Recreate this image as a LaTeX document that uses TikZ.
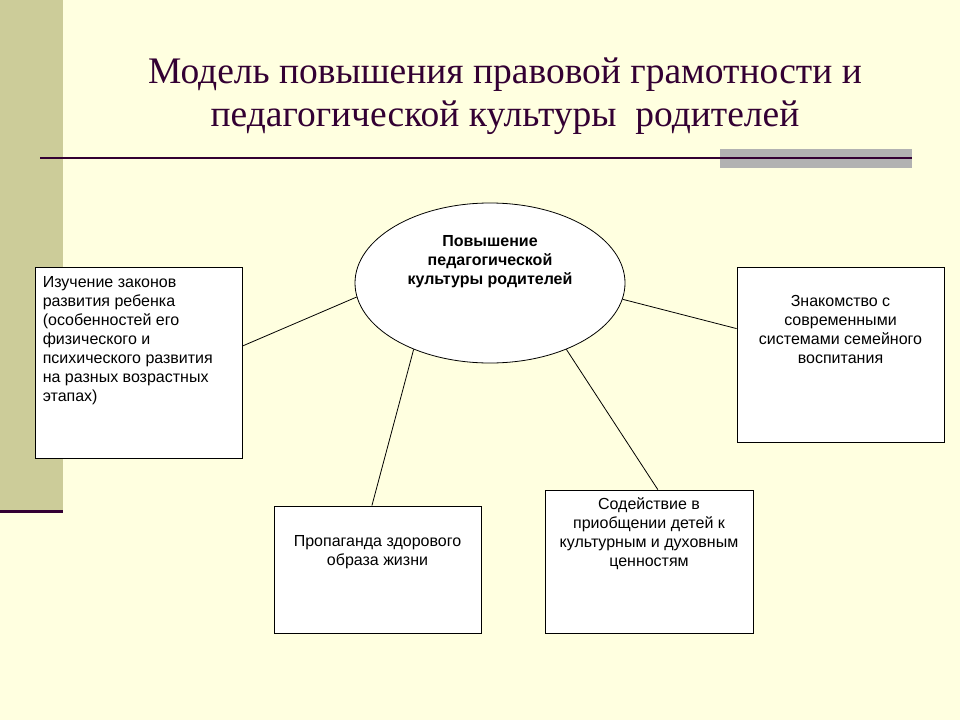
\documentclass[tikz,border=0pt]{standalone}
\usepackage{fontspec}
\setmainfont{Liberation Serif}
\newfontfamily\arialfont{Liberation Sans}
\usetikzlibrary{shapes.geometric}
\definecolor{bgcream}{RGB}{255,255,224}
\definecolor{barolive}{RGB}{204,204,153}
\definecolor{darkplum}{RGB}{51,0,51}
\definecolor{bargray}{RGB}{178,178,178}
\begin{document}
\begin{tikzpicture}[x=1pt,y=-1pt,
	infobox/.style={draw,fill=white,line width=0.8pt,inner sep=0pt},
	infotext/.style={font=\arialfont\fontsize{16}{19}\selectfont,inner sep=0pt,anchor=north,align=center},
	link/.style={line width=0.8pt}]
	\useasboundingbox (0,0) rectangle (960,720);
	\fill[bgcream] (0,0) rectangle (960,720);
	
	% side bar and title rule
	\fill[barolive] (0,0) rectangle (63,510);
	\draw[darkplum,line width=3pt] (0,511) -- (63,511);
	\fill[bargray] (720,149) rectangle (912,168);
	\draw[darkplum,line width=2.5pt] (40,158) -- (912,158);
	
	\node[darkplum,align=center,font=\fontsize{37.5}{43}\selectfont] (title) at (505,96) {Модель повышения правовой грамотности и\\педагогической культуры\ \ родителей};
	
	% centre
	\node[ellipse,infobox,minimum width=270,minimum height=160] (goal) at (490,283) {};
	\node[infotext,font=\arialfont\bfseries\fontsize{16}{19}\selectfont] (goaltext) at ([yshift=-33pt]goal.north) {Повышение\\педагогической\\культуры родителей};
	
	% boxes
	\node[infobox,minimum width=207,minimum height=191] (laws) at (138.5,362.5) {};
	\node[infotext,anchor=north west,align=left] (lawstext) at ([xshift=8pt,yshift=-10pt]laws.north west) {Изучение законов\\развития ребенка\\(особенностей его\\физического и\\психического развития\\на разных возрастных\\этапах)};
	
	\node[infobox,minimum width=207,minimum height=175] (systems) at (840.5,354.5) {};
	\node[infotext] (systemstext) at ([yshift=-29pt]systems.north) {Знакомство с\\современными\\системами семейного\\воспитания};
	
	\node[infobox,minimum width=207,minimum height=127] (health) at (377.5,569.5) {};
	\node[infotext] (healthtext) at ([yshift=-30pt]health.north) {Пропаганда здорового\\образа жизни};
	
	\node[infobox,minimum width=208,minimum height=143] (culture) at (649,561.5) {};
	\node[infotext] (culturetext) at ([yshift=-8pt]culture.north) {Содействие в\\приобщении детей к\\культурным и духовным\\ценностям};
	
	% links
	\draw[link] (laws.9.6) -- (goal.186);
	\draw[link] (goal.353.7) -- (systems.166.7);
	\draw[link] (goal.221.6) -- (health.95.8);
	\draw[link] (goal.319.3) -- (culture.83.6);
\end{tikzpicture}
\end{document}
